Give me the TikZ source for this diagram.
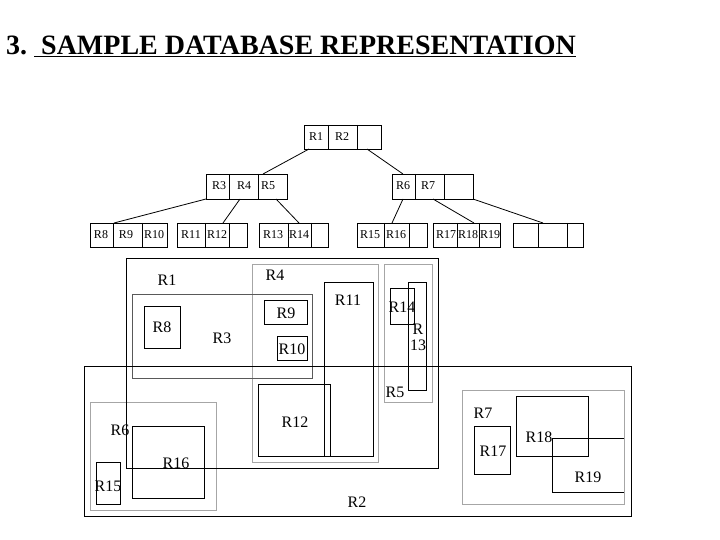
\documentclass[tikz,border=0pt]{standalone}
\usepackage{fontspec}
\setmainfont{Liberation Serif}
\begin{document}
\begin{tikzpicture}[x=1pt,y=-1pt,
  bx/.style={draw=black,line width=0.8pt},
  gbx/.style={draw=gray!70,line width=0.9pt},
  dbx/.style={draw=black!65,line width=0.9pt},
  lab/.style={font=\fontsize{16}{16}\selectfont,inner sep=0pt},
  tl/.style={font=\fontsize{12}{12}\selectfont,inner sep=0pt},
  ed/.style={line width=0.8pt}]
\useasboundingbox (0,0) rectangle (720,540);
\node[anchor=west,font=\fontsize{28}{28}\selectfont\bfseries,inner sep=0pt] (title) at (6,46) {3.\ \underline{\ SAMPLE DATABASE REPRESENTATION}};
\newcommand{\tnode}[8]{%
  \draw[bx] (#2,#6) rectangle (#5,#7);
  \draw[bx] (#3,#6) -- (#3,#7) (#4,#6) -- (#4,#7);
  \coordinate (#1) at (#2,#6);}
\tnode{root}{304}{328}{357}{381}{125}{149}{}{}
\node[tl] (t1) at (316,137) {R1}; \node[tl] (t2) at (342,137) {R2};
\tnode{l2a}{206}{229}{258}{287}{174}{199}{}{}
\node[tl] (t3) at (219,186) {R3}; \node[tl] (t4) at (244,186) {R4}; \node[tl] (t5) at (268,186) {R5};
\tnode{l2b}{392}{415}{444}{473}{174}{199}{}{}
\node[tl] (t6) at (403,186) {R6}; \node[tl] (t7) at (428,186) {R7};
\tnode{lf1}{90}{113}{142}{167}{223}{247}{}{}
\node[tl] (t8) at (101,235) {R8}; \node[tl] (t9) at (126,235) {R9}; \node[tl] (t10) at (154,235) {R10};
\tnode{lf2}{177}{205}{229}{247}{223}{247}{}{}
\node[tl] (t11) at (191,235) {R11}; \node[tl] (t12) at (217,235) {R12};
\tnode{lf3}{259}{288}{311}{328}{223}{247}{}{}
\node[tl] (t13) at (273,235) {R13}; \node[tl] (t14) at (299,235) {R14};
\tnode{lf4}{357}{384}{409}{427}{223}{247}{}{}
\node[tl] (t15) at (370,235) {R15}; \node[tl] (t16) at (396,235) {R16};
\tnode{lf5}{433}{457}{479}{500}{223}{247}{}{}
\node[tl] (t17) at (446,235) {R17}; \node[tl] (t18) at (468,235) {R18}; \node[tl] (t19) at (490,235) {R19};
\tnode{lf6}{513}{538}{567}{583}{223}{247}{}{}
\draw[ed] ([shift={(5,24)}]root) -- ([shift={(57,0)}]l2a);
\draw[ed] ([shift={(63,24)}]root) -- ([shift={(11,0)}]l2b);
\draw[ed] ([shift={(0,25)}]l2a) -- ([shift={(24,0)}]lf1);
\draw[ed] ([shift={(34,25)}]l2a) -- ([shift={(46,0)}]lf2);
\draw[ed] ([shift={(70,25)}]l2a) -- ([shift={(40,0)}]lf3);
\draw[ed] ([shift={(11,25)}]l2b) -- ([shift={(35,0)}]lf4);
\draw[ed] ([shift={(41,25)}]l2b) -- ([shift={(41,0)}]lf5);
\draw[ed] ([shift={(81,25)}]l2b) -- ([shift={(30,0)}]lf6);
\draw[gbx] (252,264) rectangle (378,462);
\draw[gbx] (384,264) rectangle (432,402);
\draw[gbx] (90,402) rectangle (216,510);
\draw[gbx] (462,390) rectangle (624,504);
\draw[dbx] (132,294) rectangle (312,378);
\draw[bx] (126,258) rectangle (438,468);
\draw[bx] (84,366) rectangle (631,516);
\draw[bx] (144,306) rectangle (180,348);
\draw[bx] (264,300) rectangle (307,324);
\draw[bx] (277,336) rectangle (307,360);
\draw[bx] (324,282) rectangle (373,456);
\draw[bx] (258,384) rectangle (330,456);
\draw[bx] (390,288) rectangle (414,324);
\draw[bx] (408,282) rectangle (426,390);
\draw[bx] (132,426) rectangle (204,498);
\draw[bx] (96,462) rectangle (120,504);
\draw[bx] (474,426) rectangle (510,474);
\draw[bx] (516,396) rectangle (588,456);
\draw[bx] (624,438) -- (552,438) -- (552,492) -- (624,492);
\node[lab] (r1) at (167,280) {R1};
\node[lab] (r4) at (275,275) {R4};
\node[lab] (r8) at (162,327) {R8};
\node[lab] (r3) at (222,338) {R3};
\node[lab] (r9) at (286,313) {R9};
\node[lab] (r10) at (292,349) {R10};
\node[lab] (r11) at (348,300) {R11};
\node[lab] (r14) at (402,307) {R14};
\node[lab,align=center] (r13) at (418,337) {R\\13};
\node[lab] (r5) at (395,392) {R5};
\node[lab] (r12) at (295,422) {R12};
\node[lab] (r6) at (120,430) {R6};
\node[lab] (r16) at (176,463) {R16};
\node[lab] (r15) at (108,486) {R15};
\node[lab] (r2) at (357,502) {R2};
\node[lab] (r7) at (483,413) {R7};
\node[lab] (r17) at (493,451) {R17};
\node[lab] (r18) at (539,437) {R18};
\node[lab] (r19) at (588,477) {R19};
\end{tikzpicture}
\end{document}
